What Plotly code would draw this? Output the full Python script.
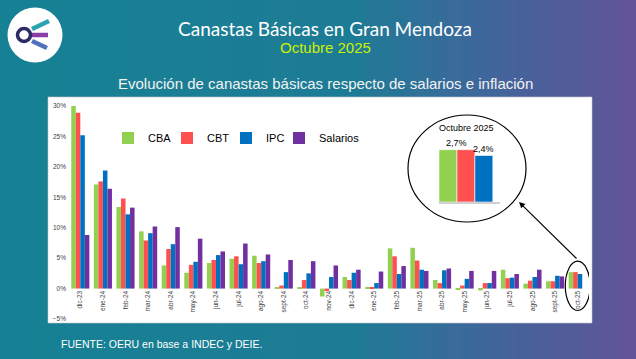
import plotly.graph_objects as go

meses = ["dic-23", "ene-24", "feb-24", "mar-24", "abr-24", "may-24", "jun-24", "jul-24",
         "ago-24", "sept-24", "oct-24", "nov-24", "dic-24", "ene-25", "feb-25", "mar-25",
         "abr-25", "may-25", "jun-25", "jul-25", "ago-25", "sept-25", "oct-25"]
cba = [30.0, 17.1, 13.4, 9.4, 3.8, 2.6, 4.2, 4.9, 5.4, 0.2, 0.1, -1.3, 1.9, 0.1, 6.6, 6.7,
       1.4, -0.2, -0.3, 3.1, 0.8, 1.2, 2.7]
cbt = [28.9, 17.6, 14.8, 7.9, 6.5, 3.9, 4.7, 5.3, 4.2, 0.5, 1.4, -0.4, 1.4, 0.1, 5.3, 4.6,
       0.9, 0.5, 0.9, 1.7, 1.3, 1.2, 2.7]
ipc = [25.2, 19.4, 12.2, 9.1, 7.3, 4.4, 5.5, 4.0, 4.5, 2.7, 2.5, 1.9, 2.6, 0.9, 2.4, 3.1,
       3.0, 1.6, 0.9, 1.8, 1.9, 2.1, 2.4]
salarios = [8.8, 16.4, 13.3, 10.2, 10.1, 8.2, 6.1, 7.4, 5.6, 4.7, 4.5, 3.8, 3.1, 2.8, 3.7, 2.9,
            3.3, 2.9, 2.9, 2.4, 3.1, 2.0, None]

inset_names = ["CBA", "CBT", "IPC"]
inset_vals = [2.7, 2.7, 2.4]

colores = {"CBA": "#92D050", "CBT": "#FF5050", "IPC": "#0070C0", "Salarios": "#7030A0"}

W, H = 636, 359
L, R, T, B = 69, 47, 106, 40
PW, PH = W - L - R, H - T - B


def px2x(px):
    return (px - L) / PW


def py2y(py):
    return (H - B - py) / PH


series = [("CBA", cba), ("CBT", cbt), ("IPC", ipc), ("Salarios", salarios)]
leyendas = ["legend", "legend2", "legend3", "legend4"]
ley_x = [108, 167, 226, 279]

fig = go.Figure()
for (nombre, serie), lg in zip(series, leyendas):
    fig.add_trace(go.Bar(x=meses, y=serie, name=nombre, marker_color=colores[nombre],
                         marker_line_width=0, legend=lg))

# recuadro octubre 2025
fig.add_trace(go.Bar(x=list(range(len(inset_vals))), y=inset_vals, width=1,
                     marker_color=[colores[n] for n in inset_names],
                     marker_line=dict(color="white", width=0.6),
                     xaxis="x2", yaxis="y2", showlegend=False))

shapes = []
# fondo degradado
stops = [(0.0, (22, 130, 148)), (0.55, (30, 124, 150)), (0.75, (62, 104, 156)), (1.0, (98, 84, 152))]
n = 80
for i in range(n):
    t = (i + 0.5) / n
    for (a, ca), (b, cb) in zip(stops[:-1], stops[1:]):
        if a <= t <= b:
            f = (t - a) / (b - a)
            c = tuple(int(ca[k] + (cb[k] - ca[k]) * f) for k in range(3))
            break
    shapes.append(dict(type="rect", xref="paper", yref="paper", layer="below",
                       x0=px2x(W * i / n), x1=px2x(W * (i + 1) / n + 1),
                       y0=py2y(H), y1=py2y(0), line_width=0,
                       fillcolor="rgb(%d,%d,%d)" % c))
# panel blanco
shapes.append(dict(type="rect", xref="paper", yref="paper", layer="below",
                   x0=px2x(48), x1=px2x(592), y0=py2y(323), y1=py2y(97),
                   fillcolor="white", line=dict(color="#C8C8C8", width=0.6)))
# logo
shapes.append(dict(type="circle", xref="paper", yref="paper", x0=px2x(7.5), x1=px2x(62.5),
                   y0=py2y(62.5), y1=py2y(7.5), fillcolor="white", line_width=0))
for (x0, y0, x1, y1, c) in [(32, 29, 49, 21, "#2AA3B0"), (32, 35, 48, 35, "#8A3FA8"),
                            (32, 41, 47, 48, "#4E72C0")]:
    shapes.append(dict(type="line", xref="paper", yref="paper", x0=px2x(x0), x1=px2x(x1),
                       y0=py2y(y0), y1=py2y(y1), line=dict(color=c, width=4.5)))
shapes.append(dict(type="circle", xref="paper", yref="paper", x0=px2x(17.5), x1=px2x(30.5),
                   y0=py2y(41.5), y1=py2y(28.5), fillcolor="white",
                   line=dict(color="#2B2A66", width=3.5)))
# circulo del recuadro
shapes.append(dict(type="circle", xref="paper", yref="paper", x0=px2x(408), x1=px2x(526),
                   y0=py2y(222), y1=py2y(115), fillcolor="rgba(0,0,0,0)",
                   line=dict(color="black", width=1.2)))
# elipse sobre el ultimo mes
k = len(meses) - 1
shapes.append(dict(type="circle", xref="x", yref="y", x0=k - 0.55, x1=k + 0.55,
                   y0=-3.6, y1=4.5, line=dict(color="black", width=1.2)))


def texto(t, px, py, size, color, family="Liberation Sans", xanchor="center"):
    return dict(text=t, x=px2x(px), y=py2y(py), xref="paper", yref="paper",
                xanchor=xanchor, yanchor="middle", showarrow=False,
                font=dict(family=family, size=size, color=color))


annotations = [
    texto("Canastas Básicas en Gran Mendoza", 325, 28, 19, "white", family="Lato"),
    texto("Octubre 2025", 325, 47, 15, "#CCF000"),
    texto("Evolución de canastas básicas respecto de salarios e inflación", 325, 83, 15, "#F2F2F2"),
    texto("FUENTE: OERU en base a INDEC y DEIE.", 59, 344, 10.5, "white", xanchor="left"),
    texto("Octubre 2025", 466, 128, 9, "black"),
    dict(text="", x=px2x(519), y=py2y(202), xref="paper", yref="paper", ax=59, ay=58,
         showarrow=True, arrowhead=2, arrowsize=1, arrowwidth=1.2, arrowcolor="black"),
]
# etiquetas del recuadro (CBA y CBT iguales -> una sola etiqueta)
etq = {}
for i, v in enumerate(inset_vals):
    etq.setdefault(v, []).append(i)
for v, idx in etq.items():
    annotations.append(dict(text=("%.1f%%" % v).replace(".", ","), x=sum(idx) / len(idx), y=v,
                            xref="x2", yref="y2", yanchor="bottom", showarrow=False,
                            font=dict(family="Liberation Sans", size=9, color="black")))

layout_ley = {}
for lg, lx in zip(leyendas, ley_x):
    layout_ley[lg] = dict(orientation="h", x=px2x(lx), y=py2y(138), yanchor="middle",
                          xanchor="left", bgcolor="rgba(0,0,0,0)",
                          font=dict(size=11, color="black"))

fig.update_layout(
    width=W, height=H, margin=dict(l=L, r=R, t=T, b=B),
    paper_bgcolor="#178493", plot_bgcolor="rgba(0,0,0,0)",
    barmode="group", bargap=0.2, bargroupgap=0,
    font=dict(family="Liberation Sans", color="#404040"),
    shapes=shapes, annotations=annotations,
    xaxis=dict(type="category", range=[-0.5, len(meses) - 0.5], anchor="free",
               position=5 / 35, tickangle=-90, showgrid=False, ticks="",
               tickfont=dict(size=6.5, color="#404040"), showline=False, zeroline=False),
    yaxis=dict(range=[-5, 30], dtick=5, ticksuffix="%", showgrid=False, zeroline=False,
               tickfont=dict(size=6.5, color="#404040"), ticklabelstandoff=2),
    xaxis2=dict(domain=[px2x(439), px2x(500)], anchor="y2", range=[-0.5, 2.9],
                showticklabels=False, showgrid=False, zeroline=False, showline=True,
                linecolor="#D0D0D0", linewidth=2, ticks=""),
    yaxis2=dict(domain=[py2y(202), py2y(140)], anchor="x2", range=[0, 3.2], visible=False),
    **layout_ley,
)

fig.write_html("out.html", config={"displayModeBar": False},
               post_script="document.body.style.margin='0';")
